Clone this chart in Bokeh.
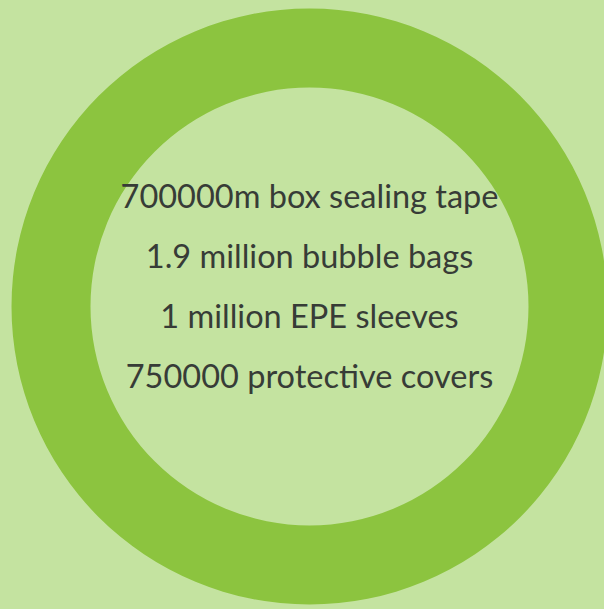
from bokeh.plotting import figure
from bokeh.models import Range1d, ColumnDataSource, GlobalInlineStyleSheet
from bokeh.core.properties import value
from bokeh.embed import file_html
from bokeh.resources import INLINE

# ---- data ----
labels = [
    "700000m box sealing tape",
    "1.9 million bubble bags",
    "1 million EPE sleeves",
    "750000 protective covers",
]
ring_share = [1.0]  # full ring (100%)

# ---- styles / layout ----
W, H = 604, 609
BG = "#c4e3a0"
RING = "#8cc43f"
TEXT = "#373c37"
CX, CY = 309, 306
R_OUT, R_IN = 298, 219
FIRST_BASELINE = 195
LINE_STEP = 60
FONT = "Lato"
FONT_SIZE = "32.5px"

p = figure(width=W, height=H, output_backend="svg", toolbar_location=None,
           x_range=Range1d(0, W), y_range=Range1d(H, 0),
           min_border=0, background_fill_color=BG, border_fill_color=BG)
p.axis.visible = False
p.grid.visible = False
p.outline_line_color = None
p.stylesheets = [GlobalInlineStyleSheet(css=f"html, body {{ margin: 0; padding: 0; background: {BG}; overflow: hidden; }}")]

n = len(ring_share)
ring_src = ColumnDataSource(dict(x=[CX] * n, y=[CY] * n))
p.annulus(x="x", y="y", inner_radius=R_IN, outer_radius=R_OUT,
          fill_color=RING, line_color=None, source=ring_src)

txt_src = ColumnDataSource(dict(
    x=[CX] * len(labels),
    y=[FIRST_BASELINE + i * LINE_STEP for i in range(len(labels))],
    t=labels,
))
p.text(x="x", y="y", text="t", source=txt_src, text_align="center",
       text_baseline="alphabetic", text_font=value(FONT), text_font_size=FONT_SIZE,
       text_color=TEXT)

open("out.html", "w").write(file_html(p, INLINE))
